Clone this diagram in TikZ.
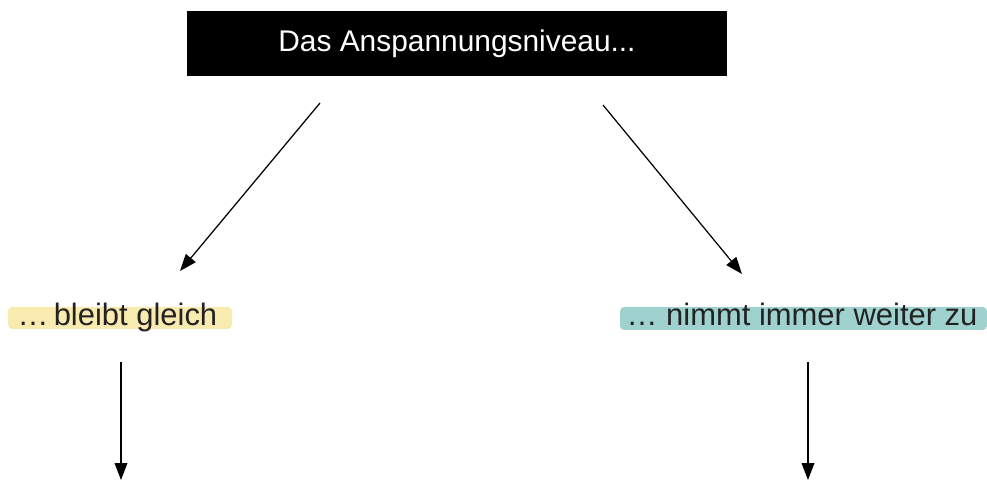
\documentclass[tikz,border=0pt]{standalone}
\usepackage{fontspec}
\setmainfont{Liberation Sans}
\usetikzlibrary{arrows.meta}

\definecolor{markyellow}{HTML}{F9EAB0}
\definecolor{markteal}{HTML}{9FD1CF}
\definecolor{textgrey}{HTML}{222222}

\tikzset{
  headbox/.style={fill=black, text=white, minimum width=5.4cm, minimum height=0.65cm, inner sep=0pt, font=\fontsize{8.5}{10}\selectfont},
  marktext/.style={text=textgrey, inner sep=0pt, font=\fontsize{8.8}{11}\selectfont},
  pfeil/.style={line width=0.35pt, -{Triangle[length=4.8pt,width=3.6pt]}}
}

\begin{document}
\begin{tikzpicture}[x=0.01cm, y=-0.01cm]
\useasboundingbox (0,0) rectangle (987,482);

% Titel
\node[headbox] (head) at (457,43.5) {Das Anspannungsniveau...};

% Markierungen
\fill[markyellow, rounded corners=1.2pt] (8,307) rectangle (232,329);
\fill[markteal, rounded corners=1.2pt] (620,307) rectangle (987,330);

% Aussagen
\node[marktext, anchor=base west] (stay) at (17,326) {…\,bleibt gleich};
\node[marktext, anchor=base west] (grow) at (626,326) {… nimmt immer weiter zu};

% Pfeilenden
\coordinate (ls) at (320,103);
\coordinate (le) at (180,271);
\coordinate (rs) at (603,105);
\coordinate (re) at (742,274);
\coordinate (ld) at (121,480);
\coordinate (rd) at (808,480);

% Pfeile
\draw[pfeil] (ls) -- (le);
\draw[pfeil] (rs) -- (re);
\draw[pfeil] (stay.base -| ld) ++(0,36) -- (ld);
\draw[pfeil] (grow.base -| rd) ++(0,36) -- (rd);
\end{tikzpicture}
\end{document}
